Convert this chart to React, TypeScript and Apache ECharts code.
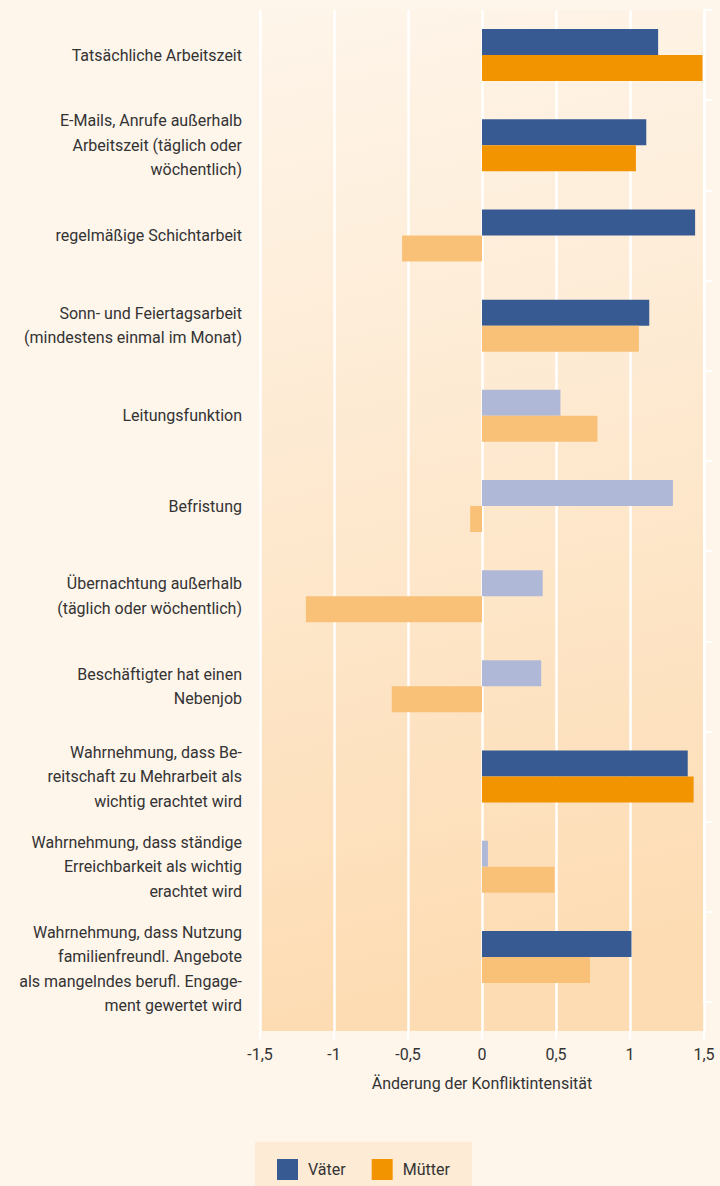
import React, { useEffect, useRef } from "react";
import * as echarts from "echarts";

const categories = [
  "Tatsächliche Arbeitszeit",
  "E-Mails, Anrufe außerhalb\nArbeitszeit (täglich oder\nwöchentlich)",
  "regelmäßige Schichtarbeit",
  "Sonn- und Feiertagsarbeit\n(mindestens einmal im Monat)",
  "Leitungsfunktion",
  "Befristung",
  "Übernachtung außerhalb\n(täglich oder wöchentlich)",
  "Beschäftigter hat einen\nNebenjob",
  "Wahrnehmung, dass Be-\nreitschaft zu Mehrarbeit als\nwichtig erachtet wird",
  "Wahrnehmung, dass ständige\nErreichbarkeit als wichtig\nerachtet wird",
  "Wahrnehmung, dass Nutzung\nfamilienfreundl. Angebote\nals mangelndes berufl. Engage-\nment gewertet wird",
];
const vaeter = [1.19, 1.11, 1.44, 1.13, 0.53, 1.29, 0.41, 0.4, 1.39, 0.04, 1.01];
const muetter = [1.49, 1.04, -0.54, 1.06, 0.78, -0.08, -1.19, -0.61, 1.43, 0.49, 0.73];
const vaeterSig = [true, true, true, true, false, false, false, false, true, false, true];
const muetterSig = [true, true, false, false, false, false, false, false, true, false, false];
const xTicks = [-1.5, -1, -0.5, 0, 0.5, 1, 1.5];

const C_V = "#375a93";
const C_V_LIGHT = "#b0b8d7";
const C_M = "#f29400";
const C_M_LIGHT = "#f9c178";
const FONT = "Roboto, sans-serif";
const TXT = "#333333";

export default function App() {
  const ref = useRef<HTMLDivElement>(null);
  useEffect(() => {
    document.body.style.margin = "0";
    document.body.style.background = "#fef5eb";
    const chart = echarts.init(ref.current!, null, { renderer: "svg" });
    const option: any = {
      animation: false,
      backgroundColor: "#fef5eb",
      textStyle: { fontFamily: FONT, color: TXT },
      grid: [
        { left: 260, width: 444, top: 10, height: 992, containLabel: false },
        {
          left: 260,
          width: 444,
          top: 10,
          height: 1021,
          show: true,
          borderWidth: 0,
          backgroundColor: {
            type: "linear",
            x: 0,
            y: 0,
            x2: 0.1,
            y2: 1,
            colorStops: [
              { offset: 0, color: "#fef5ea" },
              { offset: 1, color: "#fddcb3" },
            ],
          },
        },
      ],
      xAxis: [
        {
          gridIndex: 0,
          type: "value",
          min: -1.5,
          max: 1.5,
          interval: 0.5,
          show: false,
        },
        {
          gridIndex: 1,
          type: "value",
          min: xTicks[0],
          max: xTicks[xTicks.length - 1],
          interval: 0.5,
          axisLine: { show: false },
          axisTick: { show: true, length: 8, lineStyle: { color: "#ffffff", width: 2 } },
          splitLine: { show: true, lineStyle: { color: "#ffffff", width: 2.5 } },
          axisLabel: {
            fontSize: 16,
            color: TXT,
            fontFamily: FONT,
            margin: 15,
            formatter: (v: number) => String(v).replace(".", ","),
          },
          name: "Änderung der Konfliktintensität",
          nameLocation: "middle",
          nameGap: 44,
          nameTextStyle: { fontSize: 16, color: TXT, fontFamily: FONT },
        },
      ],
      yAxis: [
        {
          gridIndex: 0,
          type: "category",
          inverse: true,
          data: categories.map((c, i) => (i === categories.length - 1 ? "\n" + c : c)),
          axisLine: { show: false },
          axisTick: { show: false },
          axisLabel: {
            interval: 0,
            fontSize: 16,
            lineHeight: 24.5,
            color: TXT,
            fontFamily: FONT,
            margin: 18,
            align: "right",
          },
        },
        {
          gridIndex: 0,
          type: "category",
          inverse: true,
          z: 10,
          data: categories,
          axisLine: { show: true, onZero: true, lineStyle: { color: "#ffffff", width: 3 } },
          axisTick: { show: true, length: 8, lineStyle: { color: "#ffffff", width: 2 } },
          axisLabel: { show: false },
        },
        { gridIndex: 1, type: "value", show: false, min: 0, max: 1 },
      ],
      legend: {
        left: 272,
        top: 1154,
        itemWidth: 21,
        itemHeight: 21,
        itemGap: 26,
        icon: "rect",
        data: ["Väter", "Mütter"],
        textStyle: { fontSize: 16, color: TXT, fontFamily: FONT, padding: [0, 0, 0, 5] },
      },
      graphic: [
        {
          type: "rect",
          left: 255,
          top: 1142,
          z: -1,
          shape: { width: 217, height: 50 },
          style: { fill: "#fdebd5" },
          silent: true,
        },
      ],
      series: [
        {
          name: "Väter",
          type: "bar",
          xAxisIndex: 0,
          yAxisIndex: 0,
          barWidth: 26,
          barGap: "0%",
          color: C_V,
          z: 3,
          data: vaeter.map((v, i) => ({
            value: v,
            itemStyle: { color: vaeterSig[i] ? C_V : C_V_LIGHT },
          })),
        },
        {
          name: "Mütter",
          type: "bar",
          xAxisIndex: 0,
          yAxisIndex: 0,
          barWidth: 26,
          barGap: "0%",
          color: C_M,
          z: 3,
          data: muetter.map((v, i) => ({
            value: v,
            itemStyle: { color: muetterSig[i] ? C_M : C_M_LIGHT },
          })),
        },
      ],
    };
    chart.setOption(option);
    return () => chart.dispose();
  }, []);
  return <div ref={ref} style={{ width: 720, height: 1186 }} />;
}
